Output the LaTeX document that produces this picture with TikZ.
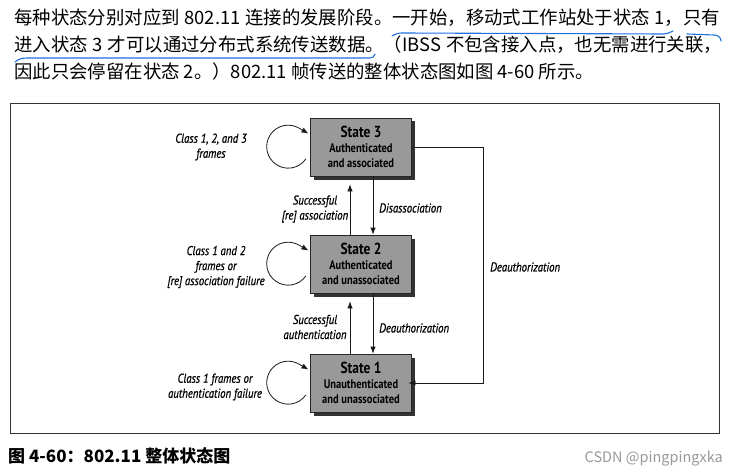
\documentclass[tikz,border=0pt]{standalone}
\usepackage{fontspec}
\newfontfamily\cjk{Noto Sans CJK SC}
\newfontfamily\dia[FakeStretch=0.84]{PT Sans}
\newfontfamily\diait[FakeStretch=0.84,FakeBold=0.8]{PT Sans Italic}
\usetikzlibrary{arrows.meta,shadows,calc}
\definecolor{penblue}{HTML}{1F6FE0}
\XeTeXlinebreaklocale "zh"
\XeTeXlinebreakskip=0pt plus 2pt minus 1pt
\begin{document}
\begin{tikzpicture}[x=1pt,y=1pt,
  statebox/.style={draw=black!85, line width=0.8pt, fill=black!40, minimum width=101pt,
    minimum height=58pt, inner sep=0pt, align=center,
    font=\dia\bfseries\fontsize{12.5}{15}\selectfont,
    drop shadow={shadow xshift=3.5pt, shadow yshift=-3.5pt, fill=black!80, opacity=1}},
  lbl/.style={font=\diait\fontsize{12.8}{15}\selectfont, align=center, inner sep=0pt},
  arr/.style={draw=black!90, line width=0.8pt, -{Latex[length=7pt,width=5.5pt]}},
  frameline/.style={draw=black!80, line width=0.9pt},
  penline/.style={draw=penblue, line width=1.1pt, line cap=round},
  cjktext/.style={anchor=base west, inner sep=0pt, font=\cjk\fontsize{18.4}{20}\selectfont}
]
\useasboundingbox (0,0) rectangle (733,472);

% top text
\node[cjktext] (t1) at (14,447) {\makebox[706pt][s]{每种状态分别对应到 802.11 连接的发展阶段。一开始，移动式工作站处于状态 1，只有}};
\node[cjktext] (t2) at (14,420) {\makebox[708pt][s]{进入状态 3 才可以通过分布式系统传送数据。（IBSS 不包含接入点，也无需进行关联，}};
\node[cjktext] (t3) at (14,393) {因此只会停留在状态 2。）802.11 帧传送的整体状态图如图 4-60 所示。};

% blue pen underlines
\draw[penline] (392,436) to[out=30,in=180] (402,439) -- (664,438) to[out=0,in=200] (673,441);
\draw[penline] (687,438) -- (714,437) to[out=0,in=90] (721,431);
\draw[penline] (15,410) to[out=40,in=180] (28,414) -- (370,414) to[out=0,in=-100] (375,418);

% frame
\draw[frameline] (10,39) rectangle (719,369);

% states
\node[statebox] (s3) at (361,325) {{\fontsize{16}{16}\selectfont State 3}\\Authenticated\\and associated};
\node[statebox] (s2) at (361,208) {{\fontsize{16}{16}\selectfont State 2}\\Authenticated\\and unassociated};
\node[statebox] (s1) at (361,89) {{\fontsize{16}{16}\selectfont State 1}\\Unauthenticated\\and unassociated};

% vertical transitions
\draw[arr, shorten >=8pt] ([xshift=-11pt]s2.north) -- ([xshift=-11pt]s3.south);
\draw[arr] ([xshift=12pt]s3.south) -- ([xshift=12pt]s2.north);
\draw[arr, shorten >=8pt] ([xshift=-11pt]s1.north) -- ([xshift=-11pt]s2.south);
\draw[arr] ([xshift=12pt]s2.south) -- ([xshift=12pt]s1.north);

% deauthorization from state 3 to state 1
\coordinate (dx) at (483,0);
\draw[arr, shorten >=-3.5pt] (s3.east) -- (s3.east -| dx) |- (s1.east);

% self loops
\foreach \s in {s3,s2,s1}{
  \draw[arr] ($(\s.west)+(-4.3,-12)$) arc[start angle=-35, end angle=-300, radius=21.5] -- ++(-30:11);
}

% labels
\node[lbl] (l3) at (211,325) {Class 1, 2, and 3\\frames};
\node[lbl] (l2) at (216,205) {Class 1 and 2\\frames or\\{[re]} association failure};
\node[lbl] (l1) at (215,85) {Class 1 frames or\\authentication failure};
\node[lbl] (la) at (315,263) {Successful\\{[re]} association};
\node[lbl, anchor=west] (ld) at (379,264) {Disassociation};
\node[lbl] (lb) at (315,145) {Successful\\authentication};
\node[lbl, anchor=west] (le) at (379,144) {Deauthorization};
\node[lbl, anchor=west] (lf) at (490,205) {Deauthorization};

% caption
\node[anchor=base west, inner sep=0pt, font=\cjk\bfseries\fontsize{17}{19}\selectfont] (cap) at (8,10) {图 4-60：802.11 整体状态图};
\node[anchor=base east, inner sep=0pt, font=\cjk\fontsize{14.5}{16}\selectfont, text=black!40] (wm) at (723,10) {CSDN @pingpingxka};
\end{tikzpicture}
\end{document}
